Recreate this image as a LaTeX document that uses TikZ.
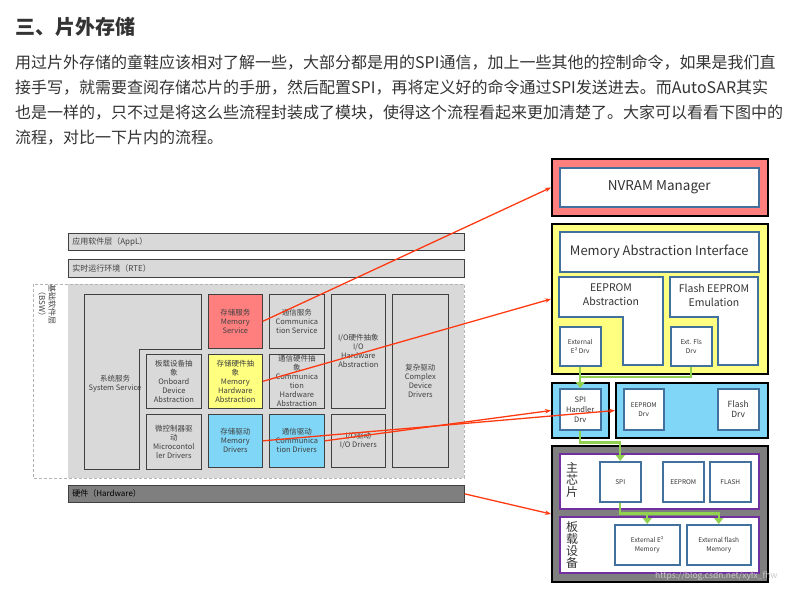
\documentclass[tikz,border=0pt]{standalone}
\usepackage{fontspec}
\setmainfont{Noto Sans CJK SC}
\usepackage{xcolor}
\usetikzlibrary{positioning,arrows.meta}
\definecolor{txtgray}{HTML}{333333}
\definecolor{boxline}{HTML}{404040}
\definecolor{bargray}{HTML}{D9D9D9}
\definecolor{hwgray}{HTML}{7F7F7F}
\definecolor{dashgray}{HTML}{B4B4B4}
\definecolor{memred}{HTML}{FF7F7F}
\definecolor{memyellow}{HTML}{FFFF80}
\definecolor{memblue}{HTML}{7FD6F6}
\definecolor{innerblue}{HTML}{41719C}
\definecolor{chippurple}{HTML}{7030A0}
\definecolor{arrowred}{HTML}{FF3A12}
\definecolor{arrowgreen}{HTML}{92D050}
\definecolor{wmgray}{HTML}{C8C8C8}

\tikzset{
  para/.style={anchor=west, inner sep=0pt, text=txtgray, font=\fontsize{16}{20}\selectfont},
  layerbar/.style={draw=boxline, fill=bargray, line width=0.7pt, anchor=north west,
    text width=388pt, align=left, minimum height=17pt, inner sep=4pt,
    font=\fontsize{8}{9}\selectfont, text=boxline},
  bswbox/.style={draw=boxline, fill=bargray, line width=0.7pt, anchor=north west,
    align=center, inner sep=0pt, font=\fontsize{7.5}{9}\selectfont, text=boxline},
  outerbox/.style={draw=black, line width=2pt, anchor=north west, inner sep=0pt},
  innerbox/.style={draw=innerblue, line width=1.5pt, fill=white, anchor=north west,
    align=center, inner sep=0pt, text=txtgray},
  chipbox/.style={draw=chippurple, line width=1.8pt, fill=white, anchor=north west, inner sep=0pt},
  redarrow/.style={draw=arrowred, line width=1.3pt, -{Stealth[length=6pt,width=4.5pt]}},
  greenline/.style={draw=arrowgreen, line width=2.2pt},
  greenarrow/.style={greenline, -{Triangle[length=6pt,width=9pt]}},
}

\begin{document}
\begin{tikzpicture}[x=1pt, y=-1pt]
  \useasboundingbox (0,0) rectangle (797,591);

  % Heading and text
  \node[anchor=west, inner sep=0pt, text=txtgray, font=\fontsize{20}{24}\selectfont\bfseries] (title) at (15,27) {三、片外存储};
  \node[para] (line1) at (15,63) {用过片外存储的童鞋应该相对了解一些，大部分都是用的SPI通信，加上一些其他的控制命令，如果是我们直};
  \node[para] (line2) at (15,88) {接手写，就需要查阅存储芯片的手册，然后配置SPI，再将定义好的命令通过SPI发送进去。而AutoSAR其实};
  \node[para] (line3) at (15,113) {也是一样的，只不过是将这么些流程封装成了模块，使得这个流程看起来更加清楚了。大家可以看看下图中的};
  \node[para] (line4) at (15,138) {流程，对比一下片内的流程。};

  % Layers
  \node[layerbar] (appl) at (68,233) {应用软件层（AppL）};
  \node[layerbar, minimum height=18pt] (rte) at (68,259) {实时运行环境（RTE）};
  \node[layerbar, fill=hwgray, text=black] (hw) at (68,485) {硬件（Hardware）};

  % BSW region
  \fill[bargray] (68,284) rectangle (464,478);
  \draw[dashgray, line width=0.8pt, dash pattern=on 3pt off 2pt] (33,284) rectangle (464,478);
  \node[rotate=-90, align=center, inner sep=0pt, text=boxline, font=\fontsize{8}{10}\selectfont] (bswlabel) at (47,304) {基础软件层\\（BSW）};

  % System service (L shape)
  \draw[boxline, line width=0.7pt] (84,294) -- (201,294) -- (201,349) -- (139,349) -- (139,469) -- (84,469) -- cycle;
  \node[align=center, inner sep=0pt, text=boxline, font=\fontsize{7.5}{9}\selectfont] (syssrv) at (115,384) {系统服务\\System Service};

  % BSW modules
  \node[bswbox, minimum width=54pt, minimum height=54pt, fill=memred] (memsrv) at (208,294) {存储服务\\Memory\\Service};
  \node[bswbox, minimum width=55pt, minimum height=54pt] (comsrv) at (269,294) {通信服务\\Communica\\tion Service};
  \node[bswbox, minimum width=54pt, minimum height=114pt] (ioabs) at (331,294) {I/O硬件抽象\\I/O\\Hardware\\Abstraction};
  \node[bswbox, minimum width=56pt, minimum height=173pt] (cdd) at (392,294) {复杂驱动\\Complex\\Device\\Drivers};
  \node[bswbox, minimum width=55pt, minimum height=54pt] (onboard) at (146,354) {板载设备抽\\象\\Onboard\\Device\\Abstraction};
  \node[bswbox, minimum width=54pt, minimum height=54pt, fill=memyellow] (memhw) at (208,354) {存储硬件抽\\象\\Memory\\Hardware\\Abstraction};
  \node[bswbox, minimum width=55pt, minimum height=54pt] (comhw) at (269,354) {通信硬件抽\\象\\Communica\\tion\\Hardware\\Abstraction};
  \node[bswbox, minimum width=55pt, minimum height=55pt] (mcal) at (146,414) {微控制器驱\\动\\Microcontol\\ler Drivers};
  \node[bswbox, minimum width=54pt, minimum height=53pt, fill=memblue] (memdrv) at (208,414) {存储驱动\\Memory\\Drivers};
  \node[bswbox, minimum width=55pt, minimum height=53pt, fill=memblue] (comdrv) at (269,414) {通信驱动\\Communica\\tion Drivers};
  \node[bswbox, minimum width=54pt, minimum height=53pt] (iodrv) at (331,414) {I/O驱动\\I/O Drivers};

  % NVRAM
  \node[outerbox, minimum width=216pt, minimum height=57pt, fill=memred] (nvramout) at (551,158) {};
  \node[innerbox, minimum width=199pt, minimum height=39pt, font=\fontsize{13.5}{15}\selectfont] (nvram) at (559,167) {NVRAM Manager};

  % Memory abstraction
  \node[outerbox, minimum width=216pt, minimum height=150pt, fill=memyellow] (yellowout) at (551,223) {};
  \node[innerbox, minimum width=199pt, minimum height=40pt, font=\fontsize{13}{15}\selectfont] (maif) at (559,231) {Memory Abstraction Interface};
  \draw[innerblue, line width=1.5pt, fill=white] (559,277) -- (663,277) -- (663,365) -- (623,365) -- (623,317) -- (559,317) -- cycle;
  \draw[innerblue, line width=1.5pt, fill=white] (670,277) -- (758,277) -- (758,365) -- (718,365) -- (718,317) -- (670,317) -- cycle;
  \node[align=center, inner sep=0pt, text=txtgray, font=\fontsize{10.5}{14}\selectfont] (eeabs) at (611,295) {EEPROM\\Abstraction};
  \node[align=center, inner sep=0pt, text=txtgray, font=\fontsize{10.5}{14}\selectfont] (flsemu) at (714,295) {Flash EEPROM\\Emulation};
  \node[innerbox, minimum width=41pt, minimum height=39pt, font=\fontsize{6.5}{9}\selectfont] (e2drv) at (559,326) {External\\E² Drv};
  \node[innerbox, minimum width=41pt, minimum height=39pt, font=\fontsize{6.5}{9}\selectfont] (flsdrv) at (670,326) {Ext. Fls\\Drv};

  % Drivers
  \node[outerbox, minimum width=57pt, minimum height=55pt, fill=memblue] (spiout) at (551,382) {};
  \node[innerbox, minimum width=41pt, minimum height=41pt, font=\fontsize{7.5}{10}\selectfont] (spihdl) at (559,388) {SPI\\Handler\\Drv};
  \node[outerbox, minimum width=152pt, minimum height=55pt, fill=memblue] (drvout) at (615,382) {};
  \node[innerbox, minimum width=40pt, minimum height=41pt, font=\fontsize{6.5}{9}\selectfont] (eedrv) at (623,388) {EEPROM\\Drv};
  \node[innerbox, minimum width=41pt, minimum height=41pt, font=\fontsize{8.5}{10}\selectfont] (fldrv) at (717,388) {Flash\\Drv};

  % Hardware
  \node[outerbox, minimum width=216pt, minimum height=136pt, fill=hwgray] (hwout) at (551,445) {};
  \node[chipbox, minimum width=199pt, minimum height=55pt] (mainchip) at (559,453) {};
  \node[chipbox, minimum width=199pt, minimum height=56pt] (board) at (559,516) {};
  \node[align=center, inner sep=0pt, text=txtgray, font=\fontsize{12}{12}\selectfont] (mclabel) at (572,480) {主\\芯\\片};
  \node[align=center, inner sep=0pt, text=txtgray, font=\fontsize{12}{12}\selectfont] (bdlabel) at (572,545) {板\\载\\设\\备};
  \node[innerbox, minimum width=41pt, minimum height=40pt, font=\fontsize{6.5}{9}\selectfont] (spi) at (599,461) {SPI};
  \node[innerbox, minimum width=41pt, minimum height=40pt, font=\fontsize{6.5}{9}\selectfont] (eeprom) at (662,461) {EEPROM};
  \node[innerbox, minimum width=41pt, minimum height=40pt, font=\fontsize{6.5}{9}\selectfont] (flash) at (709,461) {FLASH};
  \node[innerbox, minimum width=65pt, minimum height=40pt, font=\fontsize{6.5}{9}\selectfont] (extee) at (614,524) {External E²\\Memory};
  \node[innerbox, minimum width=64pt, minimum height=40pt, font=\fontsize{6.5}{9}\selectfont] (extfl) at (686,524) {External flash\\Memory};

  % Green flow
  \coordinate (flsjoin) at (579.5,377);
  \draw[greenline] (flsdrv.south) |- (flsjoin);
  \draw[greenarrow] (e2drv.south) -- (spihdl.north);
  \draw[greenarrow] (spihdl.south) -- ++(0,12) -| (spi.north);
  \draw[greenarrow] (spi.south) -- ++(0,11) -| (extee.north);
  \draw[greenarrow] (spi.south) -- ++(0,11) -| (extfl.north);

  % Red mapping
  \draw[redarrow] (memsrv.east) -- (nvramout.west);
  \draw[redarrow] (memhw.east) -- (yellowout.west);
  \draw[redarrow] (memdrv.east) -- (drvout.west);
  \draw[redarrow] (comdrv.east) -- (spiout.west);
  \draw[redarrow] (hw.east) -- (hwout.west);

  % Watermark
  \node[anchor=west, inner sep=0pt, text=wmgray, font=\fontsize{8.5}{10}\selectfont] (wmark) at (655,576) {https://blog.csdn.net/xyfx\_fhw};
\end{tikzpicture}
\end{document}
